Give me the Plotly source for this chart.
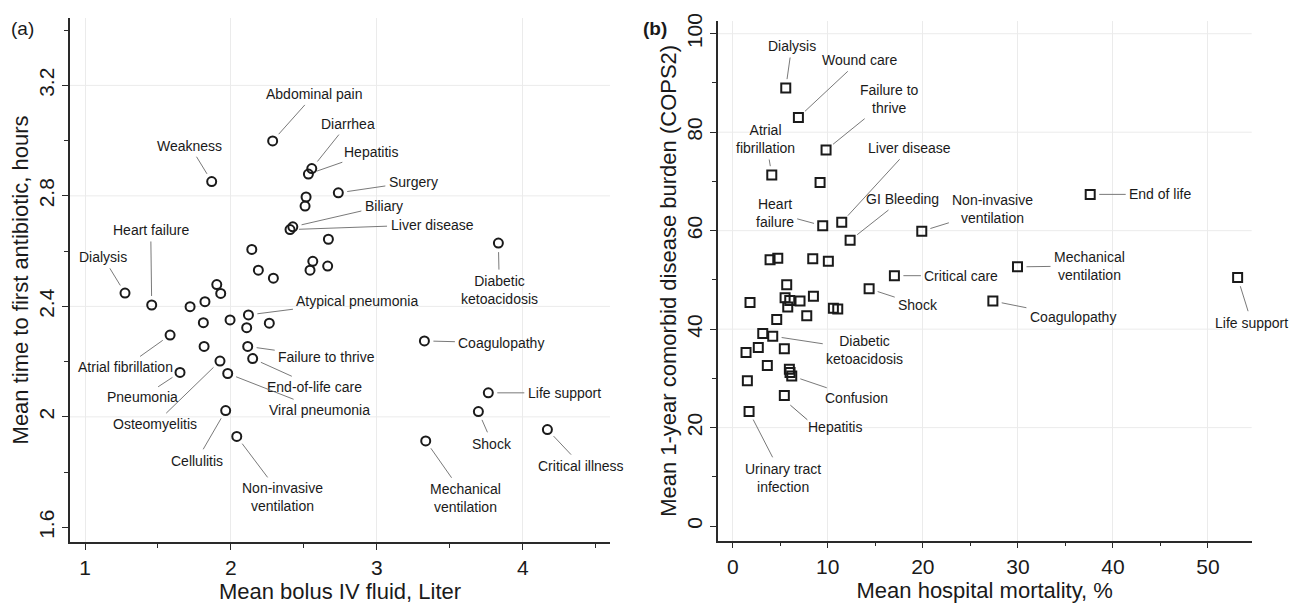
import plotly.graph_objects as go

# ---------------- Panel (a) data ----------------
a_names = ["Dialysis", "Heart failure", "Weakness", "Abdominal pain", "Diarrhea", "Hepatitis",
           "", "", "Surgery", "Biliary", "Liver disease", "", "", "", "", "", "", "", "", "",
           "", "", "", "", "Atypical pneumonia", "", "", "Atrial fibrillation", "",
           "Failure to thrive", "End-of-life care", "Osteomyelitis", "Pneumonia", "Viral pneumonia",
           "Cellulitis", "Non-invasive<br>ventilation", "Coagulopathy", "Life support", "Shock",
           "Critical illness", "Mechanical<br>ventilation", "Diabetic<br>ketoacidosis"]
a_fluid = [1.274, 1.457, 1.868, 2.286, 2.554, 2.531, 2.515, 2.508, 2.736, 2.424, 2.405, 2.668,
           2.143, 2.188, 2.291, 2.561, 2.542, 2.663, 1.903, 1.930, 1.720, 1.822, 1.811, 1.994,
           2.120, 2.108, 2.263, 1.583, 1.816, 2.115, 2.149, 1.925, 1.651, 1.978, 1.964, 2.040,
           3.326, 3.764, 3.696, 4.169, 3.335, 3.833]
a_time = [2.448, 2.405, 2.852, 2.999, 2.899, 2.879, 2.796, 2.763, 2.811, 2.688, 2.678, 2.643,
          2.606, 2.531, 2.502, 2.563, 2.531, 2.546, 2.479, 2.447, 2.399, 2.417, 2.341, 2.351,
          2.369, 2.323, 2.339, 2.296, 2.255, 2.255, 2.211, 2.202, 2.161, 2.157, 2.023, 1.929,
          2.275, 2.087, 2.019, 1.954, 1.913, 2.629]
a_xticks = [1, 2, 3, 4]
a_yticks = [1.6, 2.0, 2.4, 2.8, 3.2]

# ---------------- Panel (b) data ----------------
b_names = ["Dialysis", "Wound care", "Failure to<br>thrive", "Atrial<br>fibrillation", "",
           "Heart<br>failure", "Liver disease", "GI Bleeding", "Non-invasive<br>ventilation",
           "", "", "", "", "Critical care", "Shock", "End of life", "Mechanical<br>ventilation",
           "Life support", "Coagulopathy", "", "", "", "", "", "", "", "", "", "", "", "",
           "Diabetic<br>ketoacidosis", "", "", "", "", "", "", "Confusion", "", "Hepatitis",
           "Urinary tract<br>infection"]
b_mortality = [5.58, 6.91, 9.82, 4.11, 9.19, 9.47, 11.47, 12.35, 19.89, 3.93, 4.74, 8.42, 10.06,
               17.01, 14.35, 37.61, 29.96, 53.12, 27.37, 5.68, 1.82, 5.51, 6.00, 5.79, 7.08, 8.49,
               10.59, 11.05, 7.79, 4.63, 3.16, 4.21, 2.69, 1.40, 5.43, 3.64, 5.96, 6.03, 6.21,
               1.54, 5.43, 1.72]
b_cops2 = [88.97, 83.0, 76.4, 71.3, 69.8, 61.0, 61.7, 58.05, 59.9, 54.1, 54.4, 54.3, 53.8,
           50.86, 48.2, 67.37, 52.65, 50.47, 45.71, 49.0, 45.4, 46.4, 45.8, 44.5, 45.7, 46.7,
           44.26, 44.07, 42.74, 41.95, 39.1, 38.58, 36.26, 35.27, 36.0, 32.63, 31.84, 31.19,
           30.5, 29.5, 26.55, 23.26]
b_xticks = [0, 10, 20, 30, 40, 50]
b_yticks = [0, 20, 40, 60, 80, 100]

# label placement: offset in pixels (right, down) of the label centre from its point
a_label_offsets = {
    "Dialysis": (-22, -36), "Heart failure": (-1, -75), "Weakness": (-22, -36),
    "Abdominal pain": (42, -47), "Diarrhea": (36, -45), "Hepatitis": (63, -22),
    "Surgery": (75, -11), "Biliary": (91, -21), "Liver disease": (142, -5),
    "Diabetic<br>ketoacidosis": (1, 47), "Atypical pneumonia": (109, -14),
    "Coagulopathy": (77, 2), "Failure to thrive": (79, 11), "End-of-life care": (62, 28),
    "Viral pneumonia": (92, 36), "Atrial fibrillation": (-45, 32), "Pneumonia": (-38, 25),
    "Osteomyelitis": (-65, 63), "Cellulitis": (-29, 50), "Non-invasive<br>ventilation": (46, 61),
    "Life support": (76, 0), "Shock": (14, 32), "Critical illness": (34, 36),
    "Mechanical<br>ventilation": (40, 57),
}
b_label_offsets = {
    "Dialysis": (6, -42), "Wound care": (61, -57), "Failure to<br>thrive": (63, -51),
    "Atrial<br>fibrillation": (-6, -36), "Liver disease": (68, -74),
    "Heart<br>failure": (-48, -13), "GI Bleeding": (52, -41),
    "Non-invasive<br>ventilation": (71, -22), "Critical care": (67, 0), "Shock": (49, 16),
    "End of life": (70, 0), "Mechanical<br>ventilation": (72, -1), "Life support": (14, 45),
    "Coagulopathy": (80, 16), "Diabetic<br>ketoacidosis": (92, 14), "Confusion": (65, 22),
    "Hepatitis": (51, 32), "Urinary tract<br>infection": (34, 66),
}
# leaders drawn as a separate line trace (start, end offsets from the point in pixels: right, down)
b_manual_leaders = {"Hepatitis": ((6, 10), (23, 25))}

FONT = "Liberation Sans, Arial, Helvetica, sans-serif"
INK = "#1a1a1a"
AXIS = "#2a2a2a"
GRID = "#ebebeb"
LEADER = "#6a6a6a"

W, H = 1297, 608
ML, MR, MT, MB = 70, 45, 10, 61
PW, PH = W - ML - MR, H - MT - MB

A_XR, A_YR = [0.897, 4.598], [1.547, 3.444]
B_XR, B_YR = [-1.58, 54.6], [-2.97, 102.6]
A_PX = (70, 610, 10, 547)          # left, right, top, bottom of plot area (px)
B_PX = (717.7, 1251.7, 13, 545.7)


def px_x(p):
    return (p - ML) / PW


def px_y(p):
    return (H - MB - p) / PH


fig = go.Figure()
fig.add_trace(go.Scatter(x=a_fluid, y=a_time, mode="markers", xaxis="x", yaxis="y",
                         marker=dict(symbol="circle-open", size=9, color=INK,
                                     line=dict(width=2, color=INK)),
                         showlegend=False, hoverinfo="skip"))
fig.add_trace(go.Scatter(x=b_mortality, y=b_cops2, mode="markers", xaxis="x2", yaxis="y2",
                         marker=dict(symbol="square-open", size=9, color=INK,
                                     line=dict(width=2, color=INK)),
                         showlegend=False, hoverinfo="skip"))

annotations = []
shapes = []
for names, xs, ys, offs, manual, xr, yr, xrng, yrng, pxb in [
        (a_names, a_fluid, a_time, a_label_offsets, {}, "x", "y", A_XR, A_YR, A_PX),
        (b_names, b_mortality, b_cops2, b_label_offsets, b_manual_leaders, "x2", "y2",
         B_XR, B_YR, B_PX)]:
    ux = (xrng[1] - xrng[0]) / (pxb[1] - pxb[0])   # data units per pixel
    uy = (yrng[1] - yrng[0]) / (pxb[3] - pxb[2])
    for n, xv, yv in zip(names, xs, ys):
        if not n:
            continue
        ax, ay = offs[n]
        if n in manual:
            (sx, sy), (ex, ey) = manual[n]
            fig.add_trace(go.Scatter(
                x=[xv + sx * ux, xv + ex * ux], y=[yv - sy * uy, yv - ey * uy],
                mode="lines", xaxis=xr, yaxis=yr, line=dict(color=LEADER, width=1),
                showlegend=False, hoverinfo="skip"))
            annotations.append(dict(
                x=xv, y=yv, xref=xr, yref=yr, text=n, showarrow=False,
                xshift=ax, yshift=-ay, xanchor="center", yanchor="middle", align="center",
                font=dict(family=FONT, size=14, color=INK)))
        else:
            annotations.append(dict(
                x=xv, y=yv, xref=xr, yref=yr, text=n, showarrow=True, arrowhead=0,
                arrowwidth=0.9, arrowcolor=LEADER, ax=ax, ay=ay,
                standoff=9, startstandoff=2, align="center",
                font=dict(family=FONT, size=14, color=INK)))

annotations.append(dict(text="(a)", xref="paper", yref="paper", x=px_x(22), y=px_y(20.5),
                        showarrow=False, xanchor="center", yanchor="middle",
                        font=dict(family=FONT, size=19, color=INK)))
annotations.append(dict(text="<b>(b)</b>", xref="paper", yref="paper", x=px_x(655),
                        y=px_y(20.5), showarrow=False, xanchor="center", yanchor="middle",
                        font=dict(family=FONT, size=19, color=INK)))

for yv in a_yticks[1:]:
    shapes.append(dict(type="line", xref="x domain", yref="y", x0=0, x1=1, y0=yv, y1=yv,
                       line=dict(color=GRID, width=1), layer="below"))
for yv in b_yticks[1:]:
    shapes.append(dict(type="line", xref="x2 domain", yref="y2", x0=0, x1=1, y0=yv, y1=yv,
                       line=dict(color=GRID, width=1), layer="below"))

common = dict(showline=True, linecolor=AXIS, linewidth=1.5, ticks="outside", ticklen=6,
              tickwidth=1.2, tickcolor=AXIS, zeroline=False,
              tickfont=dict(family=FONT, size=21, color=INK))
xcommon = dict(common, showgrid=True, gridcolor=GRID, gridwidth=1)
ycommon = dict(common, showgrid=False, tickangle=-90)

fig.update_layout(
    width=W, height=H, margin=dict(l=ML, r=MR, t=MT, b=MB),
    paper_bgcolor="white", plot_bgcolor="white",
    font=dict(family=FONT, color=INK),
    xaxis=dict(xcommon, domain=[px_x(A_PX[0]), px_x(A_PX[1])], range=A_XR, tickvals=a_xticks,
               minor=dict(ticks="outside", dtick=0.5, ticklen=4, tickcolor=AXIS,
                          showgrid=False),
               title=dict(text="Mean bolus IV fluid, Liter", standoff=4,
                          font=dict(family=FONT, size=22, color=INK)),
               anchor="y"),
    yaxis=dict(ycommon, domain=[px_y(A_PX[3]), px_y(A_PX[2])], range=A_YR, tickvals=a_yticks,
               minor=dict(ticks="outside", dtick=0.2, tick0=1.6, ticklen=4, tickcolor=AXIS,
                          showgrid=False),
               title=dict(text="Mean time to first antibiotic, hours", standoff=0,
                          font=dict(family=FONT, size=22, color=INK)),
               anchor="x"),
    xaxis2=dict(xcommon, domain=[px_x(B_PX[0]), min(1.0, px_x(B_PX[1]))], range=B_XR,
                tickvals=b_xticks,
                minor=dict(ticks="outside", dtick=5, ticklen=4, tickcolor=AXIS,
                           showgrid=False),
                title=dict(text="Mean hospital mortality, %", standoff=4,
                           font=dict(family=FONT, size=22, color=INK)),
                anchor="y2"),
    yaxis2=dict(ycommon, domain=[px_y(B_PX[3]), px_y(B_PX[2])], range=B_YR,
                tickvals=b_yticks,
                minor=dict(ticks="outside", dtick=10, ticklen=4, tickcolor=AXIS,
                           showgrid=False),
                title=dict(text="Mean 1-year comorbid disease burden (COPS2)", standoff=0,
                           font=dict(family=FONT, size=22, color=INK)),
                anchor="x2"),
    annotations=annotations, shapes=shapes,
)

fig.write_html("out.html")
